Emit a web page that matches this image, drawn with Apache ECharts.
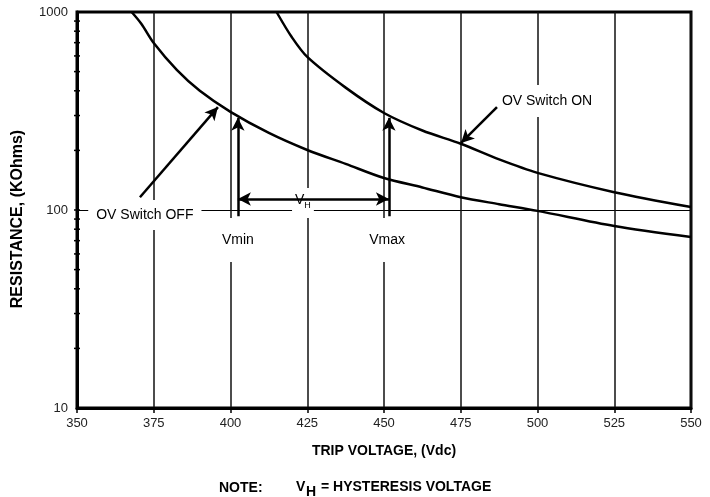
<!DOCTYPE html>
<html>
<head>
<meta charset="utf-8">
<script src="https://cdn.jsdelivr.net/npm/echarts@6/dist/echarts.min.js"></script>
<style>
	html, body { margin: 0; padding: 0; background: #fff; }
	#chart { width: 710px; height: 497px; }
</style>
</head>
<body>
<div id="chart"></div>
<script>
// trip voltage (Vdc) vs resistance (KOhms)
const offVolts = [ 367.8, 371, 375, 382.5, 390, 400, 412.5, 425, 437.5, 450, 462.5, 475, 487.5, 500, 525, 550 ];
const offOhms = [ 1000, 870, 697, 510, 400, 313, 245, 201, 171, 145, 130, 116, 107, 99, 83, 73 ];
const onVolts = [ 415, 420, 425, 437.5, 450, 462.5, 475, 487.5, 500, 525, 550 ];
const onOhms = [ 1000, 745, 593, 415, 309, 252, 216, 180, 154, 123, 103.5 ];

const xTicks = [ 350, 375, 400, 425, 450, 475, 500, 525, 550 ];
const yTicks = [ 10, 100, 1000 ];
const yMinorTicks = [ 20, 30, 40, 50, 60, 70, 80, 90, 100, 200, 300, 400, 500, 600, 700, 800, 900 ];

// annotation arrows, [from, to] in data space
const arrowOff = [ [ 370.5, 116 ], [ 395.9, 331 ] ];
const arrowOn = [ [ 486.8, 331 ], [ 475.1, 218 ] ];
const arrowVmin = [ [ 402.4, 93 ], [ 402.4, 292 ] ];
const arrowVmax = [ [ 451.6, 93 ], [ 451.6, 292 ] ];
const arrowHyst = [ [ 402.4, 113.6 ], [ 451.6, 113.6 ] ];

// annotation labels: [volts, ohms, text]
const notes = [
	[ 372.1, 94.4, 'OV Switch OFF' ],
	[ 402.4, 70.5, 'Vmin' ],
	[ 451.0, 70.5, 'Vmax' ],
	[ 503.1, 355, 'OV Switch ON' ],
	[ 423.6, 108.5, '{v|V}{h|H}' ]
];
const notePadding = [ [ 8, 8 ], [ 15, 3 ], [ 15, 3 ], [ 9, 4 ], [ 5, 3 ] ];

const FONT = '"Liberation Sans", Arial, sans-serif';

const toPairs = ( xs, ys ) => xs.map( ( x, i ) => [ x, ys[ i ] ] );

const arrowLine = ( pair, both ) => [
	{ coord: pair[ 0 ], symbol: both ? 'arrow' : 'none' },
	{ coord: pair[ 1 ], symbol: 'arrow' }
];

const chart = echarts.init( document.getElementById( 'chart' ) );

chart.setOption( {
	animation: false,
	backgroundColor: '#fff',
	grid: {
		left: 77, right: 19, top: 12, bottom: 89,
		show: true, borderColor: '#000', borderWidth: 3
	},
	xAxis: {
		type: 'value',
		min: 350, max: 550, interval: 25,
		name: 'TRIP VOLTAGE, (Vdc)',
		nameLocation: 'middle',
		nameGap: 36,
		nameTextStyle: { fontFamily: FONT, fontWeight: 'bold', fontSize: 14, color: '#000' },
		axisLine: { lineStyle: { color: '#000', width: 3 } },
		axisTick: { show: true, length: 5, lineStyle: { color: '#000', width: 1.5 } },
		axisLabel: {
			fontFamily: FONT, fontSize: 13, color: '#222', margin: 9,
			formatter: ( v ) => xTicks.includes( v ) ? String( v ) : ''
		},
		splitLine: { show: true, lineStyle: { color: '#111', width: 1.5 } }
	},
	yAxis: {
		type: 'log',
		logBase: 10,
		min: 10, max: 1000,
		axisLine: { lineStyle: { color: '#000', width: 3 } },
		axisTick: { show: false },
		axisLabel: {
			fontFamily: FONT, fontSize: 13, color: '#222', margin: 9,
			formatter: ( v ) => yTicks.includes( Math.round( v ) ) ? String( Math.round( v ) ) : ''
		},
		splitLine: { show: true, lineStyle: { color: '#000', width: 1 } }
	},
	graphic: [
		{
			type: 'text', x: 18, y: 219, rotation: Math.PI / 2,
			style: {
				text: 'RESISTANCE, (KOhms)', align: 'center', verticalAlign: 'middle',
				font: 'bold 16px ' + FONT, fill: '#000'
			}
		},
		{
			type: 'text', x: 219, y: 488,
			style: { text: 'NOTE:', verticalAlign: 'middle', font: 'bold 14px ' + FONT, fill: '#000' }
		},
		{
			type: 'text', x: 296, y: 487,
			style: { text: 'V', verticalAlign: 'middle', font: 'bold 14px ' + FONT, fill: '#000' }
		},
		{
			type: 'text', x: 306, y: 492,
			style: { text: 'H', verticalAlign: 'middle', font: 'bold 14px ' + FONT, fill: '#000' }
		},
		{
			type: 'text', x: 321, y: 487,
			style: { text: '= HYSTERESIS VOLTAGE', verticalAlign: 'middle', font: 'bold 14px ' + FONT, fill: '#000' }
		}
	],
	series: [
		{
			name: 'OV Switch OFF',
			type: 'line',
			data: toPairs( offVolts, offOhms ),
			smooth: 0.3,
			symbol: 'none',
			lineStyle: { color: '#000', width: 2.5 },
			z: 3
		},
		{
			name: 'OV Switch ON',
			type: 'line',
			data: toPairs( onVolts, onOhms ),
			smooth: 0.3,
			symbol: 'none',
			lineStyle: { color: '#000', width: 2.5 },
			z: 3
		},
		{
			// white-boxed labels that break the grid lines
			type: 'scatter',
			data: notes.map( ( n, i ) => ( {
				value: [ n[ 0 ], n[ 1 ] ],
				label: { padding: notePadding[ i ] }
			} ) ),
			symbolSize: 0,
			silent: true,
			z: 4,
			itemStyle: { opacity: 1, color: '#000' },
			label: {
				show: true,
				position: 'inside',
				opacity: 1,
				formatter: ( p ) => notes[ p.dataIndex ][ 2 ],
				fontFamily: FONT,
				fontSize: 14,
				color: '#000',
				backgroundColor: '#fff',
				rich: {
					v: { fontFamily: FONT, fontSize: 14, color: '#000', padding: [ 0, 0, 6, 0 ] },
					h: { fontFamily: FONT, fontSize: 9, color: '#000', padding: [ 6, 0, 0, 0 ] }
				}
			}
		},
		{
			// arrows
			type: 'line',
			data: [],
			z: 5,
			markLine: {
				silent: true,
				symbolSize: [ 10, 13 ],
				label: { show: false },
				lineStyle: { color: '#000', width: 2.5, type: 'solid' },
				data: [
					arrowLine( arrowOff, false ),
					arrowLine( arrowOn, false ),
					arrowLine( arrowVmin, false ),
					arrowLine( arrowVmax, false ),
					arrowLine( arrowHyst, true )
				]
			}
		},
		{
			// log minor ticks across the left axis
			type: 'custom',
			silent: true,
			clip: false,
			z: 6,
			data: yMinorTicks.map( ( v ) => [ 350, v ] ),
			renderItem: ( params, api ) => {
				const pt = api.coord( [ api.value( 0 ), api.value( 1 ) ] );
				return {
					type: 'line',
					shape: { x1: pt[ 0 ] - 3, y1: pt[ 1 ], x2: pt[ 0 ] + 3, y2: pt[ 1 ] },
					style: { stroke: '#000', lineWidth: 1.5 }
				};
			}
		}
	]
} );
</script>
</body>
</html>
